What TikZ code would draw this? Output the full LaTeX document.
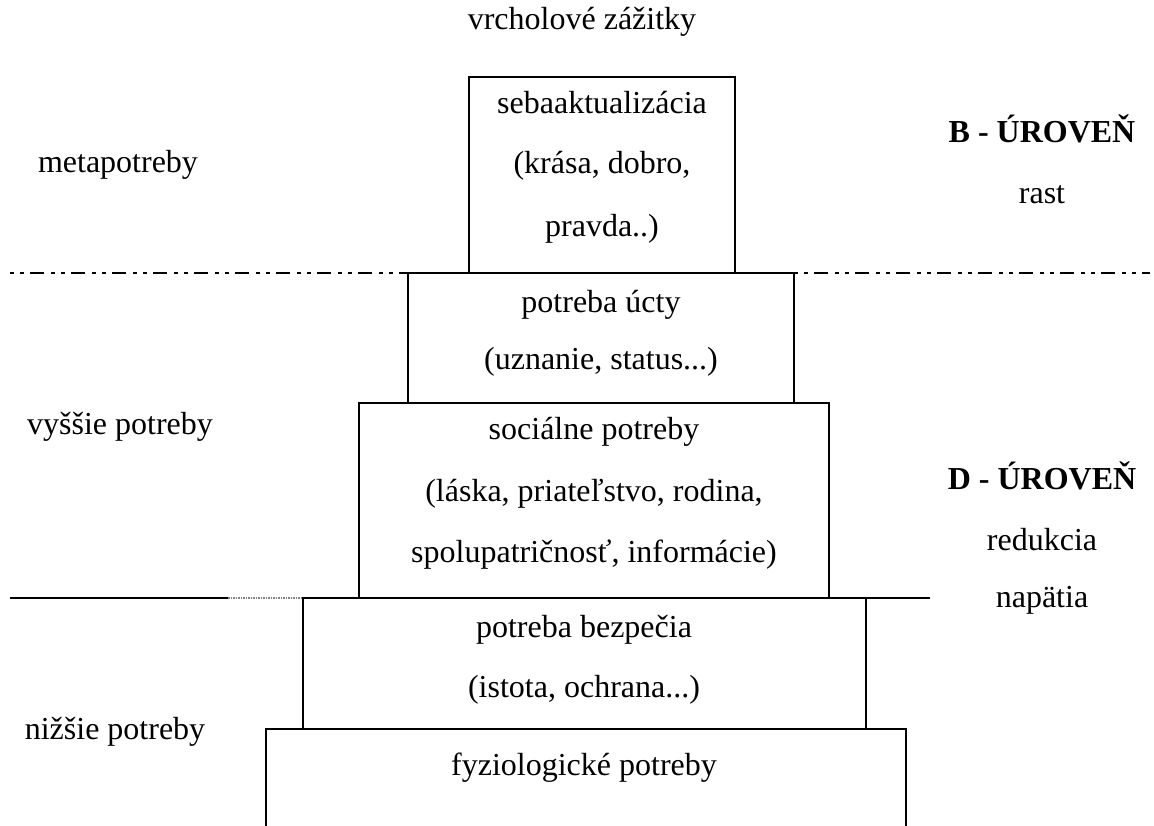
\documentclass[tikz,border=0pt]{standalone}
\usepackage{fontspec}
\setmainfont{Liberation Serif}
\begin{document}
\begin{tikzpicture}[x=1pt,y=-1pt,
  lbl/.style={inner sep=0pt,font=\fontsize{32}{38}\selectfont},
  blbl/.style={lbl,font=\fontsize{32}{38}\selectfont\bfseries},
  boxline/.style={line width=2.2pt},
  dashdotdot/.style={line width=2.4pt,dash pattern=on 4pt off 6pt on 4pt off 6pt on 14pt off 7pt}]
\useasboundingbox (0,0) rectangle (1154,826);
% boxes
\draw[boxline] (469,272) -- (469,77) -- (735,77) -- (735,272);
\draw[boxline] (408,403) -- (408,273) -- (794,273) -- (794,403);
\draw[boxline] (359,598) -- (359,403) -- (829,403) -- (829,598);
\draw[boxline] (303,729) -- (303,598) -- (866,598) -- (866,729);
\draw[boxline] (266,826) -- (266,729) -- (906,729) -- (906,826);
% level lines
\draw[dashdotdot] (10,273) -- (408,273);
\draw[dashdotdot] (794,273) -- (1150,273);
\draw[boxline] (10,598) -- (228,598);
\draw[line width=2.2pt,gray,dash pattern=on 1.5pt off 1pt] (228,598) -- (303,598);
\draw[boxline] (866,598) -- (930,598);
% texts
\node[lbl] (peak) at (582,22) {vrcholové zážitky};
\node[lbl] (s1) at (602,103) {sebaaktualizácia};
\node[lbl] (s2) at (602,166) {(krása, dobro,};
\node[lbl] (s3) at (602,229) {pravda..)};
\node[lbl] (meta) at (118,165) {metapotreby};
\node[blbl] (bu) at (1042,129) {B - ÚROVEŇ};
\node[lbl] (rast) at (1042,195) {rast};
\node[lbl] (u1) at (601,305) {potreba úcty};
\node[lbl] (u2) at (601,362) {(uznanie, status...)};
\node[lbl] (vys) at (120,427) {vyššie potreby};
\node[lbl] (so1) at (594,432) {sociálne potreby};
\node[lbl] (so2) at (594,494) {(láska, priateľstvo, rodina,};
\node[lbl] (so3) at (594,555) {spolupatričnosť, informácie)};
\node[blbl] (du) at (1042,476) {D - ÚROVEŇ};
\node[lbl] (red) at (1042,540) {redukcia};
\node[lbl] (nap) at (1042,600) {napätia};
\node[lbl] (b1) at (584,630) {potreba bezpečia};
\node[lbl] (b2) at (584,690) {(istota, ochrana...)};
\node[lbl] (niz) at (115,732) {nižšie potreby};
\node[lbl] (fyz) at (584,768) {fyziologické potreby};
\end{tikzpicture}
\end{document}
